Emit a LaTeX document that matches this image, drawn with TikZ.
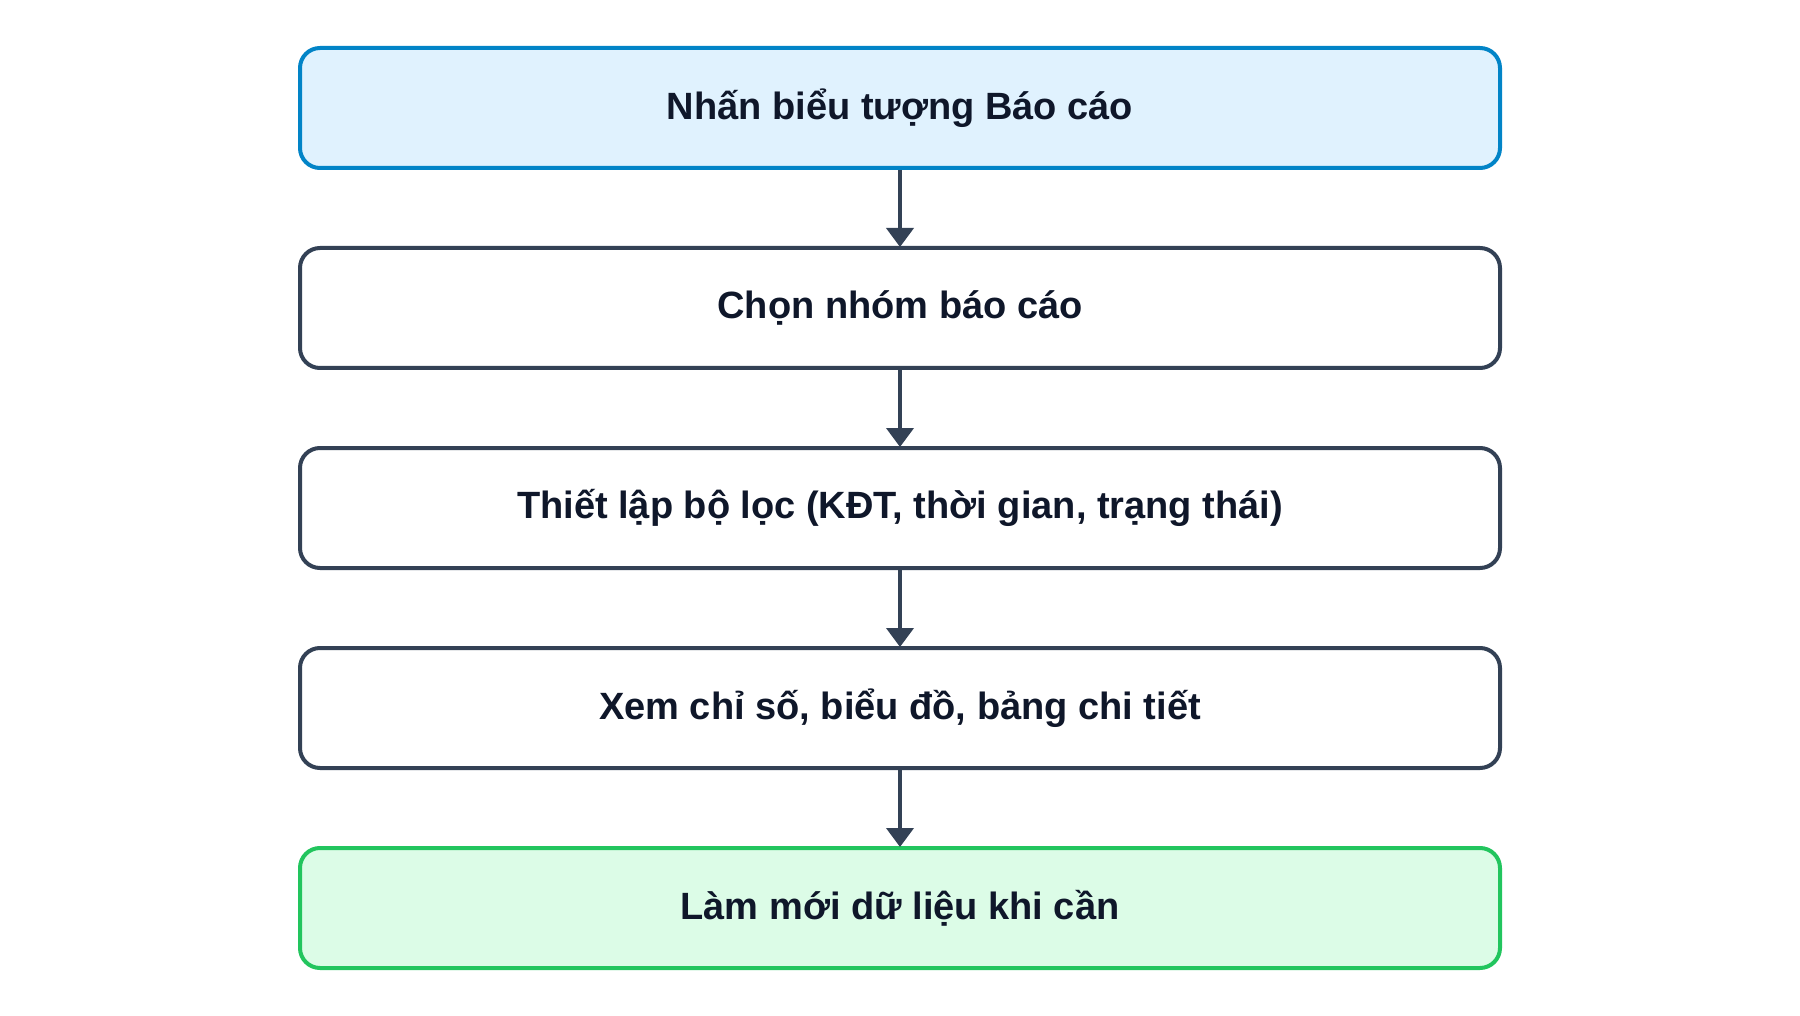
\documentclass[tikz,border=0pt]{standalone}
\usepackage{fontspec}
\setmainfont{Liberation Sans}
\usetikzlibrary{arrows.meta}
\definecolor{txt}{HTML}{0F172A}
\definecolor{slate}{HTML}{334155}
\definecolor{bluefill}{HTML}{E0F2FE}
\definecolor{bluedraw}{HTML}{0284C7}
\definecolor{greenfill}{HTML}{DCFCE7}
\definecolor{greendraw}{HTML}{22C55E}
\begin{document}
\begin{tikzpicture}[x=1pt,y=-1pt,
  stepbox/.style={draw=slate, fill=white, line width=4pt, rounded corners=20pt,
    minimum width=1200pt, minimum height=120pt, inner sep=0pt,
    text=txt, font=\fontsize{38}{45}\selectfont\bfseries},
  startbox/.style={stepbox, draw=bluedraw, fill=bluefill},
  endbox/.style={stepbox, draw=greendraw, fill=greenfill},
  conn/.style={draw=slate, line width=4pt, -{Triangle[length=19pt,width=27pt]}, shorten >=-1pt}]
\useasboundingbox (0,0) rectangle (1800,1016);
\node[startbox] (s1) at (900,108) {Nhấn biểu tượng Báo cáo};
\node[stepbox] (s2) at (900,308) {Chọn nhóm báo cáo};
\node[stepbox] (s3) at (900,508) {Thiết lập bộ lọc (KĐT, thời gian, trạng thái)};
\node[stepbox] (s4) at (900,708) {Xem chỉ số, biểu đồ, bảng chi tiết};
\node[endbox] (s5) at (900,908) {Làm mới dữ liệu khi cần};
\draw[conn] (s1) -- (s2);
\draw[conn] (s2) -- (s3);
\draw[conn] (s3) -- (s4);
\draw[conn] (s4) -- (s5);
\end{tikzpicture}
\end{document}
